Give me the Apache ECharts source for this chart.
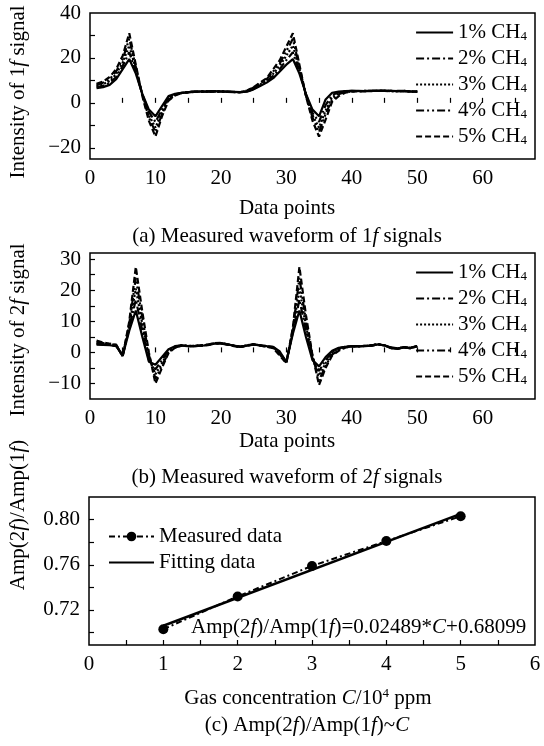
<!DOCTYPE html>
<html>
<head>
<meta charset="utf-8">
<script src="https://cdn.jsdelivr.net/npm/echarts@6/dist/echarts.min.js"></script>
<style>
  html, body { margin: 0; padding: 0; background: #fff; }
  #chart { width: 544px; height: 746px; }
</style>
</head>
<body>
<div id="chart"></div>
<script>
// data points 1..50
var points = [1,2,3,4,5,6,7,8,9,10,11,12,13,14,15,16,17,18,19,20,21,22,23,24,25,
  26,27,28,29,30,31,32,33,34,35,36,37,38,39,40,41,42,43,44,45,46,47,48,49,50];

// 1f signals
var f1_1 = [6.5,7.0,8.0,10.5,15.0,19.5,13.0,4.0,-3.0,-6.0,-1.5,3.0,4.0,4.5,4.8,5.0,5.1,5.0,5.2,5.1,5.0,4.9,4.8,5.0,6.0,7.5,9.0,11.0,14.0,17.0,19.5,13.0,4.0,-3.0,-6.0,1.5,4.5,5.0,5.2,5.3,5.3,5.2,5.3,5.4,5.3,5.3,5.2,5.3,5.0,5.0];
var f1_2 = [7.0,7.6,8.8,11.5,16.5,22.5,14.0,3.8,-4.0,-8.5,-3.0,2.5,3.8,4.5,4.8,5.0,5.0,5.1,5.1,5.0,5.0,4.8,4.8,5.1,6.2,7.8,9.5,12.0,15.0,19.0,22.5,14.0,3.8,-4.5,-8.5,-1.0,3.5,4.7,5.1,5.3,5.2,5.3,5.2,5.4,5.3,5.2,5.3,5.2,5.1,5.0];
var f1_3 = [7.5,8.3,9.7,12.8,18.0,25.5,15.0,3.5,-5.5,-11.0,-4.0,2.0,3.6,4.4,4.8,4.9,5.0,5.0,5.1,5.1,4.9,4.8,4.7,5.2,6.5,8.2,10.0,13.0,16.5,21.0,25.5,15.0,3.5,-5.5,-11.0,-3.5,2.5,4.3,5.0,5.2,5.2,5.3,5.3,5.3,5.4,5.2,5.2,5.3,5.0,4.9];
var f1_4 = [8.0,9.0,10.5,14.0,19.5,28.5,16.0,3.2,-6.5,-13.0,-5.0,1.5,3.4,4.3,4.7,4.9,5.0,5.1,5.0,5.0,4.9,4.9,4.8,5.3,6.8,8.6,10.5,14.0,17.5,23.0,28.5,16.0,3.2,-6.5,-13.0,-5.0,1.5,3.8,4.8,5.1,5.2,5.2,5.3,5.4,5.3,5.3,5.2,5.2,5.1,5.0];
var f1_5 = [8.5,9.5,11.5,15.0,21.0,31.0,17.0,3.0,-8.0,-15.0,-6.0,1.0,3.3,4.3,4.7,4.9,5.0,5.0,5.1,5.0,4.9,4.8,4.8,5.5,7.0,9.0,11.0,15.0,19.0,25.0,31.0,17.0,3.0,-8.0,-15.0,-7.5,0.5,3.0,4.5,5.0,5.2,5.2,5.3,5.3,5.4,5.3,5.2,5.3,5.1,5.0];

// 2f signals
var f2_1 = [2.5,2.4,2.3,2.0,-1.0,7.0,13.5,5.0,-3.0,-4.0,-1.5,1.0,2.0,2.3,2.0,2.0,2.2,2.3,2.8,2.9,2.6,2.2,1.8,2.2,2.5,2.3,2.0,1.8,0.3,-3.0,6.0,13.5,5.0,-2.5,-4.5,-1.5,0.5,1.5,1.8,2.0,1.9,2.0,2.2,2.6,2.3,1.6,1.3,1.6,1.5,2.0];
var f2_2 = [2.7,2.6,2.4,2.1,-1.0,7.8,17.0,7.0,-2.5,-5.5,-2.5,0.7,1.9,2.3,2.1,2.0,2.2,2.4,2.9,2.9,2.5,2.2,1.9,2.2,2.5,2.3,2.0,1.7,0.0,-3.2,6.5,17.0,7.0,-2.0,-6.0,-2.5,0.2,1.3,1.8,2.0,2.0,2.1,2.2,2.6,2.2,1.5,1.3,1.7,1.5,2.0];
var f2_3 = [3.0,2.8,2.6,2.2,-1.1,8.5,20.5,9.0,-1.5,-7.0,-3.5,0.3,1.8,2.2,2.1,2.1,2.3,2.4,2.9,3.0,2.6,2.1,1.8,2.3,2.6,2.2,1.9,1.6,-0.3,-3.3,7.0,20.5,8.5,-1.5,-7.5,-3.5,-0.3,1.0,1.7,2.0,2.0,2.1,2.3,2.7,2.2,1.5,1.2,1.6,1.4,2.0];
var f2_4 = [3.3,3.0,2.7,2.4,-1.2,9.2,24.0,11.0,-0.8,-8.5,-4.3,0.0,1.6,2.2,2.0,2.1,2.2,2.5,3.0,3.0,2.5,2.1,1.8,2.2,2.6,2.3,1.9,1.5,-0.6,-3.4,7.5,24.0,10.0,-1.2,-9.0,-4.3,-0.7,0.8,1.6,2.0,1.9,2.1,2.2,2.6,2.3,1.4,1.2,1.7,1.4,2.1];
var f2_5 = [3.8,3.2,2.8,2.5,-1.3,10.0,27.5,13.0,0.0,-10.0,-5.0,-0.2,1.5,2.2,2.0,2.0,2.3,2.5,3.0,3.1,2.6,2.0,1.7,2.3,2.7,2.2,1.8,1.4,-1.0,-3.5,8.0,27.5,12.0,-1.0,-10.5,-5.0,-1.0,0.5,1.5,2.0,2.0,2.1,2.3,2.6,2.2,1.4,1.1,1.6,1.3,2.0];

// ratio vs concentration
var conc = [1, 2, 3, 4, 5];
var ratioMeasured = [0.703, 0.732, 0.759, 0.781, 0.803];
var fitConc = [1, 5];
var fitRatio = [0.706, 0.805];

var names = ['1% CH4', '2% CH4', '3% CH4', '4% CH4', '5% CH4'];

// tick labels
var xTicksA = [0, 10, 20, 30, 40, 50, 60];
var xMinorA = [5, 10, 15, 20, 25, 30, 35, 40, 45, 50, 55, 60, 65];
var yTicksA = [-20, 0, 20, 40];
var yMinorA = [-20, -10, 0, 10, 20, 30];
var yTicksB = [-10, 0, 10, 20, 30];
var yMinorB = [-10, -5, 0, 5, 10, 15, 20, 25, 30];
var xTicksC = [0, 1, 2, 3, 4, 5, 6];
var xMinorC = [0.5, 1, 1.5, 2, 2.5, 3, 3.5, 4, 4.5, 5, 5.5];
var yTicksC = [0.72, 0.76, 0.80];
var yMinorC = [0.70, 0.72, 0.74, 0.76, 0.78, 0.80];

var FONT = 'Liberation Serif';
var dashes = ['solid', [8, 3, 2, 3], [2, 2], [8, 3, 2, 3, 2, 3], [6, 3]];

function pairs(xs, ys) {
  var out = [];
  for (var i = 0; i < ys.length; i++) out.push([xs[i], ys[i]]);
  return out;
}
function minus(v) {
  return v < 0 ? '\u2212' + Math.abs(v) : String(v);
}
function axisOf(grid, min, max, labels, ticks, fmt) {
  return {
    type: 'value', gridIndex: grid, min: min, max: max,
    axisLine: { show: false },
    axisTick: { inside: true, length: 5, customValues: ticks, lineStyle: { color: '#000', width: 1.2 } },
    axisLabel: { customValues: labels, margin: 9, color: '#000', fontFamily: FONT, fontSize: 21, formatter: fmt },
    splitLine: { show: false }
  };
}

var chartDom = document.getElementById('chart');
var myChart = echarts.init(chartDom);

var series = [];
var sets1 = [f1_1, f1_2, f1_3, f1_4, f1_5];
var sets2 = [f2_1, f2_2, f2_3, f2_4, f2_5];
for (var k = 0; k < 5; k++) {
  series.push({
    name: names[k], type: 'line', xAxisIndex: 0, yAxisIndex: 0,
    symbol: 'none', data: pairs(points, sets1[k]),
    lineStyle: { color: '#000', width: 2.2, type: dashes[k] }, itemStyle: { color: '#000' }
  });
}
for (var k2 = 0; k2 < 5; k2++) {
  series.push({
    name: names[k2], type: 'line', xAxisIndex: 1, yAxisIndex: 1,
    symbol: 'none', data: pairs(points, sets2[k2]),
    lineStyle: { color: '#000', width: 2.2, type: dashes[k2] }, itemStyle: { color: '#000' }
  });
}
series.push({
  name: 'Fitting data', type: 'line', xAxisIndex: 2, yAxisIndex: 2,
  symbol: 'none', data: pairs(fitConc, fitRatio),
  lineStyle: { color: '#000', width: 2.5, type: 'solid' }, itemStyle: { color: '#000' }
});
series.push({
  name: 'Measured data', type: 'line', xAxisIndex: 2, yAxisIndex: 2,
  symbol: 'circle', symbolSize: 10, data: pairs(conc, ratioMeasured),
  lineStyle: { color: '#000', width: 2, type: [6, 3, 2, 3] }, itemStyle: { color: '#000' }
});

var legendText = {
  color: '#000', fontFamily: FONT, fontSize: 21,
  rich: { sub: { fontFamily: FONT, fontSize: 13, verticalAlign: 'bottom', padding: [8, 0, 0, 0] } }
};
function chName(name) { return name.replace('CH4', 'CH{sub|4}'); }

var italic = { fontFamily: FONT, fontSize: 21, fontStyle: 'italic' };
function label(x, y, text, rot, align) {
  return {
    type: 'text', x: x, y: y, rotation: rot || 0,
    style: {
      text: text, fill: '#000', fontFamily: FONT, fontSize: 21,
      align: align || 'center', verticalAlign: 'middle',
      rich: {
        i: italic,
        sup: { fontFamily: FONT, fontSize: 13, verticalAlign: 'top' }
      }
    }
  };
}

var option = {
  backgroundColor: '#fff',
  animation: false,
  grid: [
    { left: 90, right: 9, top: 13, height: 146, show: true, borderColor: '#000', borderWidth: 1.5, backgroundColor: 'transparent' },
    { left: 90, right: 9, top: 253, height: 146, show: true, borderColor: '#000', borderWidth: 1.5, backgroundColor: 'transparent' },
    { left: 89, right: 9, top: 497, height: 148, show: true, borderColor: '#000', borderWidth: 1.5, backgroundColor: 'transparent' }
  ],
  xAxis: [
    axisOf(0, 0, 68, xTicksA, xMinorA),
    axisOf(1, 0, 68, xTicksA, xMinorA),
    axisOf(2, 0, 6, xTicksC, xMinorC)
  ],
  yAxis: [
    axisOf(0, -25, 40, yTicksA, yMinorA, minus),
    axisOf(1, -15, 32, yTicksB, yMinorB, minus),
    axisOf(2, 0.689, 0.82, yTicksC, yMinorC, function (v) { return v.toFixed(2); })
  ],
  legend: [
    {
      data: names, orient: 'vertical', right: 12, top: 17,
      itemWidth: 37, itemHeight: 14, itemGap: 5, itemStyle: { opacity: 0 },
      textStyle: legendText, formatter: chName, selectedMode: false
    },
    {
      data: names, orient: 'vertical', right: 12, top: 257,
      itemWidth: 37, itemHeight: 14, itemGap: 5, itemStyle: { opacity: 0 },
      textStyle: legendText, formatter: chName, selectedMode: false
    },
    {
      data: ['Measured data', { name: 'Fitting data', itemStyle: { opacity: 0 } }],
      orient: 'vertical', left: 103, top: 521,
      itemWidth: 45, itemHeight: 12, itemGap: 5,
      textStyle: { color: '#000', fontFamily: FONT, fontSize: 21 }, selectedMode: false
    }
  ],
  graphic: [
    label(18, 92, 'Intensity of 1{i|f} signal', Math.PI / 2),
    label(287, 208, 'Data points'),
    label(287, 236, '(a) Measured waveform of 1{i|f} signals'),
    label(18, 330, 'Intensity of 2{i|f} signal', Math.PI / 2),
    label(287, 441, 'Data points'),
    label(287, 477, '(b) Measured waveform of 2{i|f} signals'),
    label(18, 515, 'Amp(2{i|f})/Amp(1{i|f})', Math.PI / 2),
    label(308, 698, 'Gas concentration {i|C}/10{sup|4} ppm'),
    label(307, 725, '(c) Amp(2{i|f})/Amp(1{i|f})~{i|C}'),
    label(191, 627, 'Amp(2{i|f})/Amp(1{i|f})=0.02489*{i|C}+0.68099', 0, 'left')
  ],
  series: series
};
myChart.setOption(option);
</script>
</body>
</html>
